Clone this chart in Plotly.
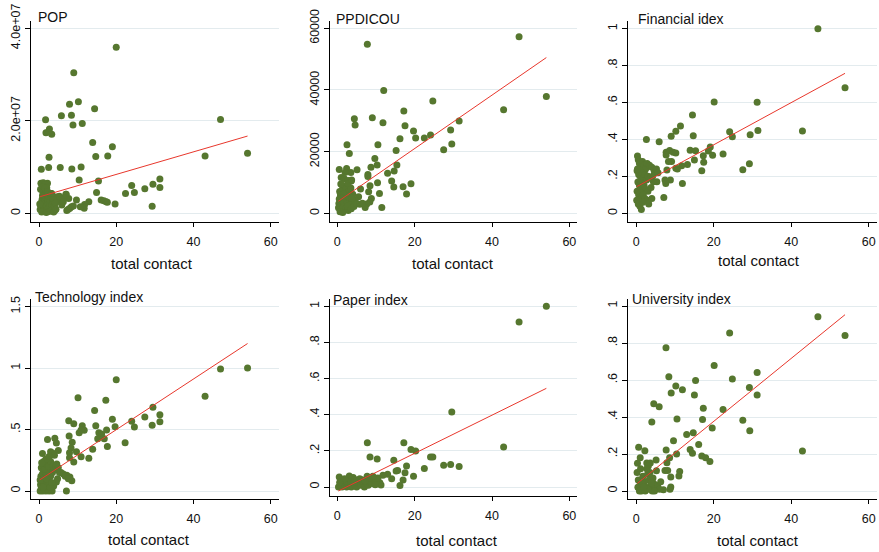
import plotly.graph_objects as go

W, H = 879, 552

# ---------------- data ----------------
pop_x = [20.0, 9.0, 7.9, 10.2, 14.4, 1.7, 5.8, 8.4, 8.8, 11.2, 47.0, 1.8, 2.7, 3.3, 2.4,
         13.9, 19.0, 2.6, 14.7, 17.8, 43.0, 54.0, 0.6, 2.5, 5.5, 8.5, 10.9, 10.4, 15.4,
         0.5, 1.1, 2.2, 1.6, 14.9, 22.4, 24.0, 24.7, 27.4, 29.5, 31.3, 31.3, 29.3, 19.7,
         16.1, 16.8, 17.4, 17.7, 12.9, 11.8, 11.7, 10.7, 9.7, 7.0, 7.7,
         4.1, 5.4, 5.0, 4.6, 5.9, 3.7, 7.2, 8.0, 8.4, 8.9, 7.6, 4.4, 5.3, 6.1, 6.3, 7.0,
         0.3, 0.5, 0.6, 0.8, 0.9, 1.0, 0.4, 1.2, 1.3, 1.4, 1.5, 1.6, 1.7, 1.8, 2.0, 2.1,
         2.2, 2.3, 2.4, 2.6, 2.7, 2.8, 2.9, 3.0, 3.2, 3.3, 3.5, 3.6, 3.8, 4.0, 4.2, 1.1,
         2.0, 0.7, 3.1, 4.4, 0.2, 1.9, 1.6, 2.2, 3.3]
pop_y_mil = [35.9, 30.4, 23.6, 24.1, 22.6, 20.2, 21.1, 21.2, 19.1, 19.4, 20.3, 17.4, 18.2, 17.1, 17.6,
             15.3, 14.4, 12.1, 12.3, 12.4, 12.4, 13.0, 9.5, 9.9, 9.9, 9.6, 10.0, 7.2, 7.0,
             6.5, 6.6, 6.5, 6.2, 4.5, 4.3, 6.0, 4.5, 5.3, 6.3, 7.4, 5.6, 1.5, 2.0,
             2.9, 2.7, 2.5, 2.4, 2.5, 1.9, 1.1, 1.4, 2.9, 4.1, 3.2,
             0.6, 2.9, 3.6, 2.5, 1.8, 1.4, 0.6, 1.1, 1.4, 1.6, 0.9, 3.5, 3.7, 3.2, 2.5, 4.1,
             0.8, 1.5, 2.3, 3.0, 3.8, 4.5, 5.2, 0.5, 1.2, 2.0, 2.8, 3.5, 4.2, 5.0, 0.9, 1.7,
             2.4, 3.1, 3.9, 0.4, 1.3, 2.1, 2.8, 3.6, 0.8, 1.9, 2.6, 3.3, 0.3, 1.5, 2.2, 5.8,
             5.5, 0.3, 4.3, 0.9, 2.0, 0.2, 5.4, 4.7, 4.3]
pop_y = [v * 1e6 for v in pop_y_mil]

inc_x = [47.0, 7.76, 54.05, 43.0, 12.0, 24.7, 17.2, 4.4, 4.6, 9.05, 11.8, 17.5, 31.5, 29.3,
         19.7, 20.25, 16.2, 22.5, 24.1, 29.6, 27.5, 15.2, 10.5, 2.5, 3.1, 9.7, 10.3, 15.4,
         8.7, 14.7, 13.0, 7.9, 7.9, 0.5, 2.4, 5.1, 3.5, 14.05, 10.4, 8.45, 14.6, 17.0, 19.05,
         17.9, 10.9, 8.1, 6.0, 11.5, 8.8, 8.4, 7.6, 7.2, 5.5, 4.6, 4.1,
         1.0, 1.8, 2.8, 3.6, 2.0, 0.6, 1.3, 2.2, 3.0, 3.5, 0.8, 1.6, 2.6, 3.3, 4.0, 0.5,
         1.2, 2.0, 2.9, 3.8, 0.4, 1.0, 1.7, 2.4, 3.2, 0.3, 0.9, 1.5, 2.2, 2.8, 0.7, 1.4,
         2.6, 3.6, 4.3, 5.0, 5.8, 6.5, 1.9, 0.9, 2.8, 3.7]
inc_y_k = [57.3, 54.8, 37.9, 33.6, 39.8, 36.4, 33.2, 30.7, 28.6, 31.0, 29.4, 28.4, 29.9, 27.0,
           26.7, 24.4, 24.2, 24.4, 25.4, 22.5, 20.6, 20.4, 22.2, 22.2, 19.4, 17.8, 15.7, 15.7,
           14.9, 13.7, 13.0, 12.6, 11.9, 14.2, 14.5, 14.1, 13.2, 10.5, 9.9, 8.9, 8.5, 8.6, 9.6,
           6.3, 6.4, 7.0, 7.9, 1.9, 4.8, 3.7, 3.0, 1.9, 5.4, 4.3, 3.5,
           11.6, 11.2, 10.6, 10.5, 13.2, 7.1, 7.8, 7.2, 7.6, 8.2, 5.9, 6.3, 5.5, 5.8, 6.2, 4.6,
           4.9, 4.3, 4.5, 4.9, 3.2, 2.9, 3.5, 3.0, 2.6, 1.8, 1.2, 2.0, 1.6, 0.9, 0.5, 0.3,
           2.3, 1.5, 2.2, 3.1, 2.9, 3.3, 8.9, 9.5, 9.7, 10.8]
inc_y = [v * 1000 for v in inc_y_k]

fin_x = [46.9, 53.9, 20.1, 31.2, 14.5, 11.4, 10.2, 9.0, 14.7, 24.1, 24.8, 29.4, 31.4, 42.9,
         2.6, 5.9, 13.9, 15.3, 19.1, 18.6, 7.7, 8.6, 9.5, 10.2, 7.7, 17.3, 19.7, 22.4, 17.4,
         15.0, 29.2, 27.5, 16.9, 11.9, 7.1, 13.2, 11.7, 10.6, 9.1, 8.3, 7.6, 8.8, 7.4, 5.3,
         4.4, 7.9, 10.2,
         0.3, 0.5, 0.8, 1.2, 1.6, 2.0, 2.4, 2.8, 3.4, 4.0, 4.6, 5.2, 0.2, 0.6, 1.0, 1.4, 1.8,
         2.2, 2.6, 3.0, 3.6, 4.2, 0.4, 0.8, 1.2, 1.6, 2.0, 2.4, 3.0, 3.8, 0.2, 0.6, 1.0, 1.4,
         1.8, 2.2, 2.8, 0.1, 0.5, 0.9, 1.3, 1.7, 3.2, 4.0, 0.3, 5.6]
fin_y = [1.0, 0.68, 0.603, 0.601, 0.532, 0.473, 0.444, 0.417, 0.42, 0.442, 0.415, 0.426, 0.448, 0.446,
         0.399, 0.388, 0.341, 0.339, 0.359, 0.338, 0.33, 0.34, 0.33, 0.326, 0.316, 0.312, 0.314, 0.321, 0.276,
         0.289, 0.269, 0.236, 0.231, 0.162, 0.085, 0.264, 0.258, 0.24, 0.28, 0.28, 0.162, 0.18, 0.18, 0.171,
         0.171, 0.235, 0.244,
         0.31, 0.29, 0.27, 0.25, 0.28, 0.26, 0.24, 0.27, 0.26, 0.25, 0.23, 0.24, 0.23, 0.21, 0.20, 0.22, 0.19,
         0.21, 0.18, 0.20, 0.19, 0.20, 0.17, 0.15, 0.16, 0.14, 0.15, 0.13, 0.12, 0.14, 0.12, 0.10, 0.11, 0.09,
         0.10, 0.08, 0.07, 0.07, 0.05, 0.04, 0.02, 0.06, 0.05, 0.08, 0.24, 0.22]

tec_x = [54.0, 47.0, 43.0, 20.0, 10.1, 17.3, 14.4, 29.5, 27.4, 31.3, 31.3, 29.3, 24.0, 24.7,
         19.0, 19.7, 7.7, 9.0, 11.2, 11.7, 10.4, 10.9, 14.7, 15.5, 16.2, 15.2, 16.9, 17.5, 17.7,
         22.3, 13.9, 12.9, 10.9, 9.7, 7.8, 8.6, 8.3, 7.9, 7.9, 9.0, 2.2, 4.1, 4.5, 0.9, 3.0,
         3.5, 5.0, 4.0, 7.1, 8.5, 8.0, 7.2, 6.3, 5.7, 5.3, 4.5,
         0.3, 0.6, 1.0, 1.4, 1.8, 2.2, 2.6, 3.0, 3.4, 0.4, 0.8, 1.2, 1.6, 2.0, 2.4, 2.8, 0.5,
         0.9, 1.3, 1.7, 2.1, 2.5, 3.0, 3.5, 4.0, 0.6, 1.0, 1.5, 2.0, 2.5, 3.0, 3.6, 4.3, 5.0,
         1.2, 1.8, 2.6, 0.3, 4.8, 3.8, 1.1, 1.9, 0.7, 2.9, 3.3, 4.6, 6.8, 7.6]
tec_y = [1.0, 0.993, 0.77, 0.906, 0.759, 0.738, 0.656, 0.681, 0.602, 0.621, 0.564, 0.534, 0.567, 0.521,
         0.583, 0.523, 0.572, 0.548, 0.53, 0.494, 0.475, 0.497, 0.53, 0.475, 0.464, 0.426, 0.426, 0.497, 0.363,
         0.393, 0.339, 0.266, 0.279, 0.32, 0.447, 0.396, 0.35, 0.312, 0.271, 0.236, 0.42, 0.43, 0.39, 0.306, 0.32,
         0.31, 0.33, 0.29, 0.0, 0.084, 0.114, 0.128, 0.139, 0.15, 0.15, 0.073,
         0.0, 0.02, 0.0, 0.01, 0.0, 0.02, 0.0, 0.01, 0.0, 0.05, 0.07, 0.06, 0.09, 0.05, 0.08, 0.06, 0.12,
         0.14, 0.11, 0.15, 0.13, 0.16, 0.12, 0.15, 0.18, 0.19, 0.2, 0.18, 0.22, 0.2, 0.24, 0.21, 0.2, 0.19,
         0.24, 0.26, 0.28, 0.09, 0.1, 0.04, 0.03, 0.1, 0.23, 0.03, 0.07, 0.22, 0.12, 0.1]

pap_x = [54.05, 47.0, 43.0, 29.6, 7.76, 17.2, 8.45, 10.3, 14.6, 19.05, 20.25, 24.1, 24.7, 22.5,
         27.5, 29.3, 31.5, 17.9, 17.5, 15.2, 15.6, 17.0, 16.2, 19.7, 14.05, 13.0, 11.8, 11.0, 11.3,
         0.5, 3.1, 4.1,
         0.3, 0.8, 1.2, 1.6, 2.0, 2.4, 2.8, 3.2, 3.6, 4.0, 4.5, 5.0, 5.5, 6.0, 6.5, 7.0, 7.5,
         8.0, 8.5, 9.0, 9.5, 10.0, 10.5, 7.7, 8.3, 9.2, 6.3, 5.8, 4.6, 1.0, 2.2, 3.4, 1.9, 0.6,
         7.2, 9.8, 4.3]
pap_y = [1.0, 0.913, 0.221, 0.415, 0.245, 0.245, 0.166, 0.155, 0.148, 0.208, 0.199, 0.166, 0.166, 0.103,
         0.12, 0.125, 0.114, 0.116, 0.079, 0.089, 0.092, 0.039, 0.009, 0.059, 0.046, 0.07, 0.065, 0.024, 0.011,
         0.055, 0.061, 0.052,
         0.0, 0.01, 0.0, 0.02, 0.01, 0.0, 0.02, 0.01, 0.0, 0.02, 0.01, 0.0, 0.02, 0.01, 0.03, 0.0, 0.02,
         0.01, 0.03, 0.02, 0.04, 0.03, 0.05, 0.06, 0.05, 0.06, 0.04, 0.045, 0.04, 0.03, 0.035, 0.03, 0.045, 0.025,
         0.035, 0.012, 0.025]

uni_x = [46.9, 53.9, 24.1, 7.66, 20.1, 8.4, 31.2, 24.8, 15.3, 10.2, 29.2, 11.9, 9.0, 15.0, 31.2,
         4.5, 5.9, 17.3, 22.4, 4.0, 10.5, 17.1, 27.5, 19.6, 14.7, 13.0, 29.3, 9.6, 16.1, 13.9,
         14.5, 16.9, 17.9, 19.0, 42.9, 7.7, 10.4, 8.6, 7.9, 7.4, 8.1, 0.6, 2.2, 1.0, 5.1, 2.7,
         3.6, 3.1, 11.2, 11.0, 8.9, 8.9, 8.7, 7.0,
         0.2, 0.5, 0.9, 1.3, 1.7, 2.1, 2.5, 2.9, 3.3, 3.7, 4.1, 4.5, 5.0, 5.5, 6.0, 0.4, 0.8,
         1.5, 2.3, 3.0, 3.5, 4.3, 1.1, 0.3, 2.7, 1.9, 4.7, 5.2, 6.3, 3.9]
uni_y = [0.942, 0.84, 0.854, 0.775, 0.679, 0.618, 0.64, 0.605, 0.598, 0.568, 0.56, 0.548, 0.53, 0.519, 0.519,
         0.472, 0.456, 0.447, 0.441, 0.373, 0.389, 0.387, 0.382, 0.341, 0.315, 0.306, 0.326, 0.272, 0.252, 0.225,
         0.204, 0.189, 0.18, 0.16, 0.216, 0.222, 0.2, 0.18, 0.153, 0.111, 0.111, 0.236, 0.218, 0.18, 0.168, 0.151,
         0.151, 0.135, 0.105, 0.081, 0.076, 0.022, 0.009, 0.007,
         0.1, 0.06, 0.03, 0.0, 0.08, 0.05, 0.02, 0.09, 0.06, 0.03, 0.0, 0.04, 0.02, 0.03, 0.01, 0.02, 0.0,
         0.04, 0.0, 0.01, 0.1, 0.07, 0.12, 0.15, 0.12, 0.02, 0.0, 0.11, 0.05, 0.045]

# fitted-line end points (x, y)
pop_fit_x, pop_fit_y = [0.3, 54.0], [3.6e6, 16.7e6]
inc_fit_x, inc_fit_y = [0.26, 54.05], [3900, 50500]
fin_fit_x, fin_fit_y = [0.09, 53.9], [0.144, 0.758]
tec_fit_x, tec_fit_y = [0.17, 54.0], [0.09, 1.2]
pap_fit_x, pap_fit_y = [0.26, 54.05], [-0.022, 0.546]
uni_fit_x, uni_fit_y = [0.26, 53.9], [0.041, 0.953]

titles = ["POP", "PPDICOU", "Financial idex", "Technology index", "Paper index", "University index"]
x_title = "total contact"
x_ticks = [0, 20, 40, 60]
y_ticks = [
    ([0, 2e7, 4e7], ["0", "2.0e+07", "4.0e+07"]),
    ([0, 20000, 40000, 60000], ["0", "20000", "40000", "60000"]),
    ([0, 0.2, 0.4, 0.6, 0.8, 1.0], ["0", ".2", ".4", ".6", ".8", "1"]),
    ([0, 0.5, 1.0, 1.5], ["0", ".5", "1", "1.5"]),
    ([0, 0.2, 0.4, 0.6, 0.8, 1.0], ["0", ".2", ".4", ".6", ".8", "1"]),
    ([0, 0.2, 0.4, 0.6, 0.8, 1.0], ["0", ".2", ".4", ".6", ".8", "1"]),
]
series = [
    (pop_x, pop_y, pop_fit_x, pop_fit_y),
    (inc_x, inc_y, inc_fit_x, inc_fit_y),
    (fin_x, fin_y, fin_fit_x, fin_fit_y),
    (tec_x, tec_y, tec_fit_x, tec_fit_y),
    (pap_x, pap_y, pap_fit_x, pap_fit_y),
    (uni_x, uni_y, uni_fit_x, uni_fit_y),
]

# ---------------- layout (pixel boxes of plot areas) ----------------
boxes = [  # left, right, top, bottom (px)
    (30.7, 279.3, 20.7, 221.7),
    (329.5, 577.0, 20.7, 221.7),
    (628.3, 876.7, 20.7, 221.7),
    (30.7, 279.3, 298.7, 499.3),
    (329.5, 577.0, 298.5, 496.0),
    (628.3, 876.7, 298.7, 498.7),
]
x_ranges = [(-2.149, 62.22), (-2.025, 61.98), (-2.074, 62.08)] * 2
y_ranges = [(-1.816e6, 41.64e6), (-2724, 62465), (-0.0455, 1.0430),
            (-0.0675, 1.5647), (-0.0498, 1.0433), (-0.0416, 1.0395)]
title_pos = [(36, 16.7), (334, 19.3), (636, 19.3), (32.5, 296.7), (330.5, 300), (630, 298.7)]
xtitle_pos = [(151.7, 263.3), (452.7, 263.3), (759, 260.5), (149, 539.3), (456.7, 540.5), (758.3, 540)]

FONT = "Liberation Sans, Arial, Helvetica, sans-serif"
GREEN = "#56772f"
RED = "#e8372c"
GRID = "#e3ebee"
TXT = "#111111"

fig = go.Figure()
layout = dict(
    width=W, height=H, margin=dict(l=0, r=0, t=0, b=0, pad=0, autoexpand=False),
    paper_bgcolor="white", plot_bgcolor="white", showlegend=False,
    font=dict(family=FONT, size=12, color=TXT),
    annotations=[],
)

for i, (sx, sy, fx, fy) in enumerate(series):
    n = "" if i == 0 else str(i + 1)
    fig.add_trace(go.Scatter(x=sx, y=sy, mode="markers", xaxis="x" + n, yaxis="y" + n,
                             marker=dict(size=7, color=GREEN, line=dict(width=0)),
                             cliponaxis=False, hoverinfo="skip"))
    fig.add_trace(go.Scatter(x=fx, y=fy, mode="lines", xaxis="x" + n, yaxis="y" + n,
                             line=dict(color=RED, width=1), hoverinfo="skip"))
    l, r, t, b = boxes[i]
    tv, tt = y_ticks[i]
    layout["xaxis" + n] = dict(
        domain=[l / W, r / W], anchor="y" + n, range=list(x_ranges[i]), automargin=False,
        tickvals=x_ticks, ticktext=[str(v) for v in x_ticks],
        showline=True, linecolor="black", linewidth=1, mirror=False,
        ticks="outside", ticklen=4, tickcolor="black", tickwidth=1,
        showgrid=False, zeroline=False, ticklabelstandoff=4,
        tickfont=dict(family=FONT, size=12.5, color=TXT), fixedrange=True,
    )
    layout["yaxis" + n] = dict(
        domain=[1 - b / H, 1 - t / H], anchor="x" + n, range=list(y_ranges[i]), automargin=False,
        tickvals=tv, ticktext=tt, tickangle=-90,
        showline=True, linecolor="black", linewidth=1, mirror=False,
        ticks="outside", ticklen=5, tickcolor="black", tickwidth=1,
        showgrid=True, gridcolor=GRID, gridwidth=1, zeroline=False,
        tickfont=dict(family=FONT, size=12.5, color=TXT), fixedrange=True,
    )
    tx, ty = title_pos[i]
    layout["annotations"].append(dict(
        text=titles[i], xref="paper", yref="paper", x=tx / W, y=1 - ty / H,
        xanchor="left", yanchor="middle", showarrow=False,
        font=dict(family=FONT, size=14, color=TXT)))
    ax, ay = xtitle_pos[i]
    layout["annotations"].append(dict(
        text=x_title, xref="paper", yref="paper", x=ax / W, y=1 - ay / H,
        xanchor="center", yanchor="middle", showarrow=False,
        font=dict(family=FONT, size=15, color=TXT)))

fig.update_layout(**layout)
fig.write_html("out.html", config={"displayModeBar": False},
               post_script="document.body.style.margin='0';document.body.style.padding='0';")
